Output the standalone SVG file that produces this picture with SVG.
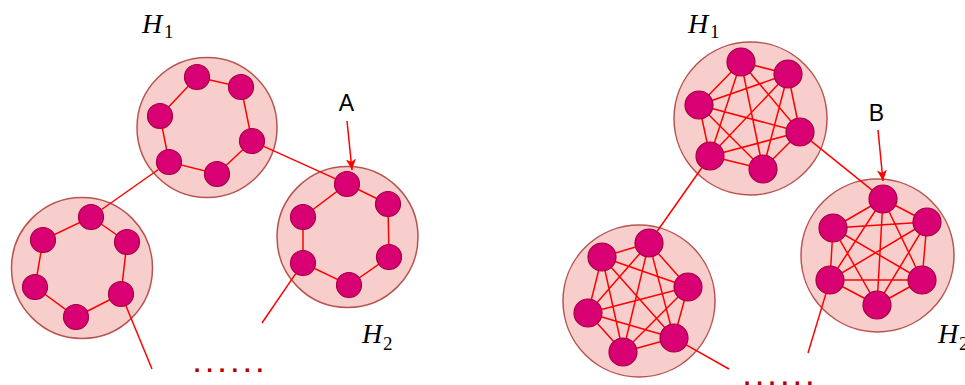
<svg xmlns="http://www.w3.org/2000/svg" width="965" height="385" viewBox="0 0 965 385">
<defs>
<style>
.cl{fill:#f8cecc;stroke:#b85450;stroke-width:1.5}
.nd{fill:#d80073;stroke:#a50040;stroke-width:1.2}
.ed{stroke:#ff0000;stroke-width:1.5;fill:none}
.lbl{font-family:"Liberation Serif",serif;font-style:italic;font-size:28px;fill:#000}
.sub{font-style:normal;font-size:19px}
.ab{font-family:"Liberation Sans",Arial,sans-serif;font-size:23px;fill:#000;text-anchor:middle}
.dots{font-family:"Liberation Sans",Arial,sans-serif;font-size:24px;font-weight:bold;fill:#b20000;letter-spacing:5.9px}
</style>
<marker id="arr" markerUnits="userSpaceOnUse" markerWidth="12" markerHeight="12" refX="11" refY="5" orient="auto">
<path d="M0,0 L11,5 L0,10 L3,5 Z" fill="#ff0000"/>
</marker>
</defs>
<rect width="965" height="385" fill="#ffffff"/>

<!-- LEFT PANEL -->
<g id="L-H1">
<circle class="cl" cx="207" cy="127.5" r="70"/>
<polygon class="ed" points="197,77 241,87 252,141 217,174 169,162 160,116"/>
<circle class="nd" cx="197" cy="77" r="12.5"/>
<circle class="nd" cx="241" cy="87" r="12.5"/>
<circle class="nd" cx="160" cy="116" r="12.5"/>
<circle class="nd" cx="252" cy="141" r="12.5"/>
<circle class="nd" cx="169" cy="162" r="12.5"/>
<circle class="nd" cx="217" cy="174" r="12.5"/>
</g>
<g id="L-H3">
<circle class="cl" cx="82" cy="268" r="70.5"/>
<polygon class="ed" points="91,217 127,242 121,294 76,317 35,287 43,240"/>
<circle class="nd" cx="91" cy="217" r="12.5"/>
<circle class="nd" cx="43" cy="240" r="12.5"/>
<circle class="nd" cx="127" cy="242" r="12.5"/>
<circle class="nd" cx="35" cy="287" r="12.5"/>
<circle class="nd" cx="121" cy="294" r="12.5"/>
<circle class="nd" cx="76" cy="317" r="12.5"/>
</g>
<g id="L-H2">
<circle class="cl" cx="347.5" cy="237" r="70.5"/>
<polygon class="ed" points="347,184 388,204 389,257 349,285 303,263 303,217"/>
<circle class="nd" cx="347" cy="184" r="12.5"/>
<circle class="nd" cx="388" cy="204" r="12.5"/>
<circle class="nd" cx="303" cy="217" r="12.5"/>
<circle class="nd" cx="389" cy="257" r="12.5"/>
<circle class="nd" cx="303" cy="263" r="12.5"/>
<circle class="nd" cx="349" cy="285" r="12.5"/>
</g>

<!-- RIGHT PANEL -->
<g id="R-H1">
<circle class="cl" cx="750.5" cy="118.5" r="76.5"/>
<path class="ed" d="M741,62L788,74M741,62L699,105M741,62L800,132M741,62L710,156M741,62L763,169M788,74L699,105M788,74L800,132M788,74L710,156M788,74L763,169M699,105L800,132M699,105L710,156M699,105L763,169M800,132L710,156M800,132L763,169M710,156L763,169"/>
<circle class="nd" cx="741" cy="62" r="14"/>
<circle class="nd" cx="788" cy="74" r="14"/>
<circle class="nd" cx="699" cy="105" r="14"/>
<circle class="nd" cx="800" cy="132" r="14"/>
<circle class="nd" cx="710" cy="156" r="14"/>
<circle class="nd" cx="763" cy="169" r="14"/>
</g>
<g id="R-H3">
<circle class="cl" cx="639" cy="301" r="76"/>
<path class="ed" d="M649,243L602,257M649,243L688,287M649,243L588,313M649,243L674,338M649,243L623,352M602,257L688,287M602,257L588,313M602,257L674,338M602,257L623,352M688,287L588,313M688,287L674,338M688,287L623,352M588,313L674,338M588,313L623,352M674,338L623,352"/>
<circle class="nd" cx="649" cy="243" r="14"/>
<circle class="nd" cx="602" cy="257" r="14"/>
<circle class="nd" cx="688" cy="287" r="14"/>
<circle class="nd" cx="588" cy="313" r="14"/>
<circle class="nd" cx="674" cy="338" r="14"/>
<circle class="nd" cx="623" cy="352" r="14"/>
</g>
<g id="R-H2">
<circle class="cl" cx="877.5" cy="255.5" r="76.5"/>
<path class="ed" d="M883,199L833,228M883,199L927,222M883,199L830,280M883,199L922,280M883,199L877,305M833,228L927,222M833,228L830,280M833,228L922,280M833,228L877,305M927,222L830,280M927,222L922,280M927,222L877,305M830,280L922,280M830,280L877,305M922,280L877,305"/>
<circle class="nd" cx="883" cy="199" r="14"/>
<circle class="nd" cx="833" cy="228" r="14"/>
<circle class="nd" cx="927" cy="222" r="14"/>
<circle class="nd" cx="830" cy="280" r="14"/>
<circle class="nd" cx="922" cy="280" r="14"/>
<circle class="nd" cx="877" cy="305" r="14"/>
</g>

<g id="connectors">
<line class="ed" x1="158.4" y1="169.5" x2="101.6" y2="209.5"/>
<line class="ed" x1="263.8" y1="146.4" x2="335.2" y2="178.6"/>
<line class="ed" x1="126" y1="306" x2="152" y2="369"/>
<line class="ed" x1="295.7" y1="273.7" x2="262" y2="323"/>
<line class="ed" x1="347" y1="121" x2="352" y2="170" marker-end="url(#arr)"/>
<line class="ed" x1="702" y1="167.5" x2="657" y2="231.5"/>
<line class="ed" x1="810.9" y1="140.8" x2="872.1" y2="190.2"/>
<line class="ed" x1="686.2" y1="344.9" x2="729" y2="369"/>
<line class="ed" x1="826" y1="293.4" x2="808" y2="353"/>
<line class="ed" x1="878" y1="130" x2="883" y2="181" marker-end="url(#arr)"/>
</g>

<g id="labels">
<text class="lbl" x="142" y="33">H<tspan class="sub" x="164" y="38">1</tspan></text>
<text class="lbl" x="362" y="343">H<tspan class="sub" x="383" y="350">2</tspan></text>
<text class="lbl" x="688" y="33">H<tspan class="sub" x="710" y="38">1</tspan></text>
<text class="lbl" x="938" y="343">H<tspan class="sub" x="959" y="350">2</tspan></text>
<text class="ab" x="346.5" y="111">A</text>
<text class="ab" x="876.5" y="121">B</text>
<text class="dots" x="193.7" y="372">......</text>
<text class="dots" x="743.7" y="385">......</text>
</g>
</svg>
